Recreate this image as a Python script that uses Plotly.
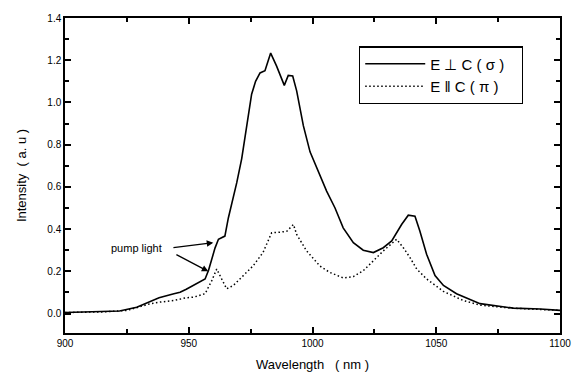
import plotly.graph_objects as go

# E perpendicular C (sigma) - solid
sigma_x = [900, 911, 922, 929, 934, 938, 944, 946.5, 949, 952, 956.6, 958, 960.6, 962, 964.6,
           966, 968, 969.4, 971.4, 973.4, 975.4, 977, 978.8, 980.8, 983.1, 985.5, 988.6, 990.2,
           992, 993.6, 996.3, 999, 1003, 1005.7, 1009.1, 1012.4, 1016.5, 1020.5, 1024.6, 1028.6,
           1032, 1036, 1038.7, 1041.4, 1043.4, 1046.1, 1049.5, 1052.9, 1058.2, 1067.7, 1081,
           1092, 1100]
sigma_y = [0.005, 0.008, 0.012, 0.03, 0.054, 0.075, 0.094, 0.101, 0.115, 0.133, 0.164, 0.205,
           0.31, 0.352, 0.367, 0.453, 0.55, 0.62, 0.734, 0.89, 1.039, 1.10, 1.14, 1.15, 1.234,
           1.172, 1.081, 1.128, 1.125, 1.055, 0.89, 0.766, 0.656, 0.58, 0.5, 0.406, 0.336, 0.30,
           0.289, 0.312, 0.344, 0.422, 0.466, 0.461, 0.39, 0.281, 0.18, 0.133, 0.094, 0.047,
           0.026, 0.022, 0.015]

# E parallel C (pi) - dotted
pi_x = [900, 915, 925, 931, 934, 938, 944, 949, 952, 956.6, 959.3, 961.3, 963.3, 965.3, 968,
        972, 976, 980, 983.5, 986.5, 989.6, 992.3, 993.6, 997.6, 1003, 1007, 1012.4, 1016.5,
        1020.5, 1024.6, 1028.6, 1034, 1036.7, 1039.4, 1042.1, 1046.1, 1052.9, 1060.9, 1067.7,
        1080, 1100]
pi_y = [0.005, 0.008, 0.015, 0.035, 0.045, 0.054, 0.062, 0.075, 0.078, 0.094, 0.156, 0.211,
        0.164, 0.117, 0.133, 0.18, 0.226, 0.289, 0.383, 0.385, 0.39, 0.422, 0.375, 0.297,
        0.225, 0.195, 0.169, 0.175, 0.203, 0.25, 0.297, 0.352, 0.312, 0.265, 0.211, 0.164,
        0.105, 0.062, 0.04, 0.026, 0.015]

x_tick_step = 50
y_tick_step = 0.2

fig = go.Figure()
fig.add_trace(go.Scatter(x=sigma_x, y=sigma_y, mode="lines", name="E \u22a5 C ( \u03c3 )   ",
                         line=dict(color="black", width=1.6)))
fig.add_trace(go.Scatter(x=pi_x, y=pi_y, mode="lines", name="E \u2016 C ( \u03c0 )   ",
                         line=dict(color="black", width=1.5, dash="1.5px,2.5px")))

font_family = "Liberation Sans, Arial, sans-serif"

# annotations: pump light text + two arrows
fig.add_annotation(x=929, y=0.31, text="pump light", showarrow=False,
                   font=dict(family=font_family, size=11, color="black"))
fig.add_annotation(x=959.9, y=0.336, ax=943.2, ay=0.311, axref="x", ayref="y",
                   text="", showarrow=True, arrowhead=2, arrowsize=1, arrowwidth=1.3,
                   arrowcolor="black")
fig.add_annotation(x=957.9, y=0.2, ax=944.4, ay=0.283, axref="x", ayref="y",
                   text="", showarrow=True, arrowhead=2, arrowsize=1, arrowwidth=1.3,
                   arrowcolor="black")

fig.update_xaxes(range=[900, 1100], dtick=x_tick_step,
                 showline=True, linecolor="black", linewidth=1.5, mirror="ticks",
                 ticks="inside", ticklen=6, tickwidth=2, tickcolor="black",
                 showgrid=False,
                 minor=dict(ticks="inside", ticklen=4, tickcolor="black", dtick=x_tick_step / 2),
                 tickfont=dict(family=font_family, size=10, color="black"),
                 title=dict(text="Wavelength   ( nm )", standoff=12,
                            font=dict(family=font_family, size=13, color="black")))
fig.update_yaxes(range=[-0.092, 1.4], dtick=y_tick_step, tickformat=".1f",
                 showline=True, linecolor="black", linewidth=1.5, mirror="ticks",
                 ticks="inside", ticklen=6, tickwidth=2, tickcolor="black",
                 showgrid=False, zeroline=False,
                 minor=dict(ticks="inside", ticklen=4, tickcolor="black", dtick=y_tick_step / 2),
                 tickfont=dict(family=font_family, size=10, color="black"),
                 title=dict(text="Intensity  ( a. u )", standoff=18,
                            font=dict(family=font_family, size=13, color="black")))

fig.update_layout(
    width=587, height=383,
    margin=dict(l=65, r=27, t=14, b=50),
    paper_bgcolor="white", plot_bgcolor="white",
    showlegend=True,
    legend=dict(x=0.594, y=0.91, xanchor="left", yanchor="top",
                bordercolor="black", borderwidth=1.2, bgcolor="white",
                font=dict(family=font_family, size=15, color="black"),
                itemwidth=60, tracegroupgap=4),
)

fig.write_html("out.html")
